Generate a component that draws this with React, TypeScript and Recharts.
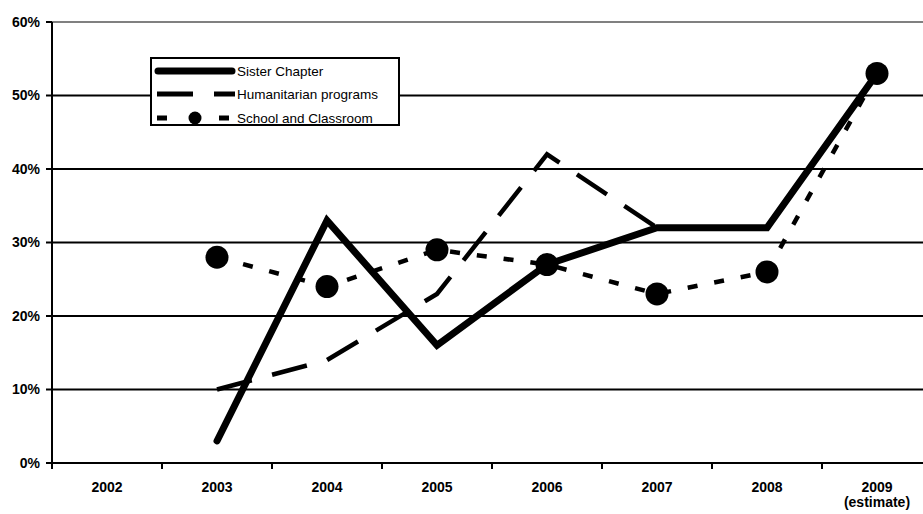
import React from "react";
import { LineChart, Line, XAxis, YAxis, CartesianGrid, Legend, ReferenceLine } from "recharts";

const years = ["2002", "2003", "2004", "2005", "2006", "2007", "2008", "2009"];
const yearLabels = ["2002", "2003", "2004", "2005", "2006", "2007", "2008", "2009\n(estimate)"];
const seriesNames = ["Sister Chapter", "Humanitarian programs", "School and Classroom"];
const sisterChapter = [null, 3, 33, 16, 27, 32, 32, 53];
const humanitarian = [null, 10, 14, 23, 42, 32, 32, 53];
const schoolClassroom = [null, 28, 24, 29, 27, 23, 26, 53];
const yTicks = [0, 10, 20, 30, 40, 50, 60];

const data = years.map((year, i) => ({
  year,
  sister: sisterChapter[i],
  humanitarian: humanitarian[i],
  school: schoolClassroom[i],
}));

const FONT = "'Liberation Sans', Arial, sans-serif";

const XTick = (props: any) => {
  const { x, y, payload, index } = props;
  const half = payload && payload.offset ? payload.offset : 55;
  const lines = String(yearLabels[index] ?? payload.value).split("\n");
  return (
    <g>
      <line x1={x - half} x2={x - half} y1={y} y2={y + 6} stroke="#000" strokeWidth={2} />
      <text x={x} y={y + 29} textAnchor="middle" fontFamily={FONT} fontWeight="bold" fontSize={14} fill="#000">
        {lines.map((l, i) => (
          <tspan key={i} x={x} dy={i === 0 ? 0 : 15}>
            {l}
          </tspan>
        ))}
      </text>
    </g>
  );
};

const LegendBox = () => {
  const rowY = [12, 35, 59];
  return (
    <div
      style={{
        width: 250,
        height: 69,
        boxSizing: "border-box",
        border: "2px solid #000",
        background: "#fff",
      }}
    >
      <svg width={246} height={65} style={{ display: "block", overflow: "visible" }}>
        {seriesNames.map((name, i) => {
          const cy = rowY[i];
          let sample = null;
          if (i === 0) {
            sample = <line x1={6} x2={80} y1={cy} y2={cy} stroke="#000" strokeWidth={7} strokeLinecap="round" />;
          } else if (i === 1) {
            sample = <line x1={5} x2={83} y1={cy} y2={cy} stroke="#000" strokeWidth={5} strokeDasharray="36 21" />;
          } else {
            sample = (
              <g>
                <rect x={5} y={cy - 2.5} width={10} height={5} fill="#000" />
                <circle cx={43} cy={cy} r={6.5} fill="#000" />
                <rect x={67} y={cy - 2.5} width={10} height={5} fill="#000" />
              </g>
            );
          }
          return (
            <g key={name}>
              {sample}
              <text x={85} y={cy} dominantBaseline="central" fontFamily={FONT} fontSize={13.5} fill="#000">
                {name}
              </text>
            </g>
          );
        })}
      </svg>
    </div>
  );
};

export default function App() {
  return (
    <div
      style={{
        position: "absolute",
        left: 0,
        top: 0,
        width: 923,
        height: 514,
        overflow: "hidden",
        background: "#fff",
      }}
    >
      <LineChart width={940} height={514} data={data} margin={{ top: 22, right: 8, bottom: 0, left: 0 }}>
        <CartesianGrid vertical={false} stroke="#000" strokeWidth={2} />
        <ReferenceLine y={60} stroke="#808080" strokeWidth={2} />
        <XAxis
          dataKey="year"
          scale="band"
          height={51}
          interval={0}
          tickSize={0}
          tickMargin={0}
          tickLine={false}
          axisLine={{ stroke: "#000", strokeWidth: 2 }}
          tick={<XTick />}
        />
        <YAxis
          width={52}
          domain={[0, 60]}
          ticks={yTicks}
          tickFormatter={(v: number) => `${v}%`}
          tickSize={6}
          tickMargin={6}
          tickLine={{ stroke: "#000", strokeWidth: 2 }}
          axisLine={{ stroke: "#000", strokeWidth: 2 }}
          tick={{ fill: "#000", fontSize: 14, fontWeight: "bold", fontFamily: FONT }}
        />
        <Legend
          layout="horizontal"
          align="center"
          verticalAlign="middle"
          wrapperStyle={{ left: 150, top: 57, width: 250, height: 69 }}
          content={<LegendBox />}
        />
        <Line
          type="linear"
          dataKey="sister"
          name={seriesNames[0]}
          stroke="#000"
          strokeWidth={7}
          strokeLinecap="round"
          strokeLinejoin="miter"
          dot={false}
          activeDot={false}
          isAnimationActive={false}
        />
        <Line
          type="linear"
          dataKey="humanitarian"
          name={seriesNames[1]}
          stroke="#000"
          strokeWidth={4.5}
          strokeDasharray="36 21"
          dot={false}
          activeDot={false}
          isAnimationActive={false}
        />
        <Line
          type="linear"
          dataKey="school"
          name={seriesNames[2]}
          stroke="#000"
          strokeWidth={4.5}
          strokeDasharray="10 17"
          dot={{ r: 11.5, fill: "#000", stroke: "#000", strokeWidth: 0, strokeDasharray: "0" }}
          activeDot={false}
          isAnimationActive={false}
        />
      </LineChart>
    </div>
  );
}
